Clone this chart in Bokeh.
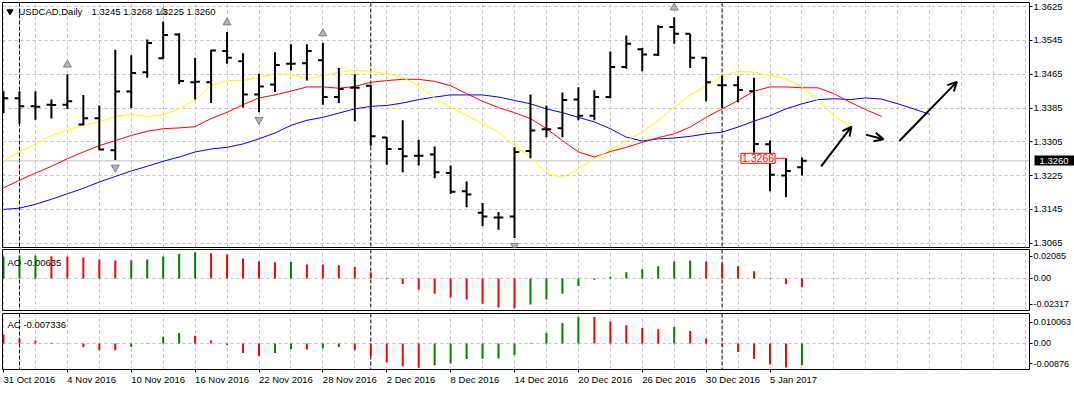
from bokeh.plotting import figure
from bokeh.layouts import column
from bokeh.models import (Range1d, FixedTicker, PrintfTickFormatter, Span, Label,
                          Arrow, OpenHead, ColumnDataSource, LinearAxis)
from bokeh.core.properties import value
from bokeh.embed import file_html
from bokeh.resources import INLINE

# ---------------- data ----------------
symbol = "USDCAD,Daily"

opens = [1.3406, 1.3408, 1.3389, 1.3393, 1.3393, 1.3346, 1.3361, 1.3285, 1.3424, 1.3470,
         1.3503, 1.3559, 1.3446, 1.3446, 1.3520, 1.3496, 1.3417, 1.3441, 1.3490, 1.3491,
         1.3498, 1.3411, 1.3433, 1.3438, 1.3315, 1.3288, 1.3272, 1.3275, 1.3231, 1.3188,
         1.3137, 1.3126, 1.3128, 1.3283, 1.3335, 1.3337, 1.3405, 1.3367, 1.3411, 1.3482,
         1.3524, 1.3511, 1.3577, 1.3561, 1.3504, 1.3439, 1.3439, 1.3425, 1.3299, 1.3225,
         1.3245]
highs = [1.3425, 1.3425, 1.3425, 1.3405, 1.3465, 1.3416, 1.3391, 1.3523, 1.3510, 1.3547,
         1.3590, 1.3562, 1.3504, 1.3523, 1.3565, 1.3515, 1.3466, 1.3517, 1.3536, 1.3536,
         1.3539, 1.3480, 1.3465, 1.3439, 1.3316, 1.3356, 1.3310, 1.3294, 1.3249, 1.3211,
         1.3160, 1.3139, 1.3292, 1.3417, 1.3391, 1.3422, 1.3434, 1.3427, 1.3519, 1.3557,
         1.3527, 1.3581, 1.3600, 1.3561, 1.3506, 1.3462, 1.3460, 1.3457, 1.3308, 1.3266,
         1.3268]
lows = [1.3373, 1.3348, 1.3357, 1.3360, 1.3383, 1.3344, 1.3285, 1.3262, 1.3385, 1.3457,
        1.3502, 1.3442, 1.3405, 1.3397, 1.3490, 1.3386, 1.3375, 1.3423, 1.3474, 1.3450,
        1.3393, 1.3397, 1.3354, 1.3296, 1.3251, 1.3233, 1.3249, 1.3219, 1.3182, 1.3150,
        1.3105, 1.3097, 1.3077, 1.3266, 1.3316, 1.3316, 1.3356, 1.3356, 1.3408, 1.3478,
        1.3472, 1.3508, 1.3537, 1.3480, 1.3401, 1.3385, 1.3399, 1.3279, 1.3188, 1.3174,
        1.3225]
closes = [1.3408, 1.3389, 1.3388, 1.3392, 1.3401, 1.3361, 1.3287, 1.3424, 1.3468, 1.3539,
          1.3558, 1.3449, 1.3447, 1.3521, 1.3504, 1.3417, 1.3436, 1.3487, 1.3490, 1.3520,
          1.3411, 1.3430, 1.3433, 1.3318, 1.3288, 1.3271, 1.3272, 1.3233, 1.3187, 1.3180,
          1.3128, 1.3126, 1.3281, 1.3332, 1.3335, 1.3404, 1.3367, 1.3411, 1.3482, 1.3537,
          1.3512, 1.3577, 1.3561, 1.3504, 1.3446, 1.3439, 1.3428, 1.3300, 1.3227, 1.3236,
          1.3260]

# Alligator lines (lips shifted 3 bars, teeth 5 bars, jaw 8 bars into the future)
lips = [1.3259, 1.3281, 1.3300, 1.3320, 1.3333, 1.3344, 1.3352, 1.3365, 1.3370, 1.3365,
        1.3369, 1.3383, 1.3405, 1.3438, 1.3450, 1.3450, 1.3458, 1.3466, 1.3465, 1.3454,
        1.3462, 1.3470, 1.3474, 1.3472, 1.3466, 1.3457, 1.3438, 1.3408, 1.3386, 1.3367,
        1.3348, 1.3328, 1.3296, 1.3269, 1.3231, 1.3221, 1.3241, 1.3265, 1.3286, 1.3308,
        1.3328, 1.3356, 1.3387, 1.3416, 1.3438, 1.3462, 1.3472, 1.3470, 1.3462, 1.3454,
        1.3435, 1.3403, 1.3367, 1.3342]
teeth = [1.3196, 1.3214, 1.3231, 1.3247, 1.3265, 1.3281, 1.3296, 1.3308, 1.3320, 1.3330,
         1.3336, 1.3338, 1.3341, 1.3360, 1.3375, 1.3393, 1.3409, 1.3416, 1.3425, 1.3435,
         1.3435, 1.3432, 1.3436, 1.3446, 1.3450, 1.3453, 1.3453, 1.3448, 1.3438, 1.3419,
         1.3401, 1.3386, 1.3374, 1.3360, 1.3336, 1.3308, 1.3281, 1.3269, 1.3282, 1.3292,
         1.3304, 1.3315, 1.3324, 1.3340, 1.3363, 1.3383, 1.3403, 1.3425, 1.3435, 1.3435,
         1.3433, 1.3433, 1.3419, 1.3399, 1.3381, 1.3365]
jaw = [1.3145, 1.3148, 1.3157, 1.3169, 1.3182, 1.3195, 1.3210, 1.3223, 1.3236, 1.3247,
       1.3259, 1.3269, 1.3281, 1.3288, 1.3292, 1.3300, 1.3312, 1.3326, 1.3344, 1.3356,
       1.3363, 1.3373, 1.3383, 1.3389, 1.3391, 1.3397, 1.3405, 1.3411, 1.3416, 1.3416,
       1.3416, 1.3411, 1.3403, 1.3395, 1.3383, 1.3374, 1.3363, 1.3352, 1.3336, 1.3316,
       1.3307, 1.3312, 1.3314, 1.3318, 1.3324, 1.3328, 1.3340, 1.3354, 1.3367, 1.3383,
       1.3395, 1.3405, 1.3407, 1.3405, 1.3409, 1.3406, 1.3395, 1.3383, 1.3370]

ao = [0.01575, 0.0163, 0.0166, 0.0160, 0.01575, 0.01504, 0.01363, 0.01293, 0.0131, 0.01363,
      0.01575, 0.01786, 0.0188, 0.0181, 0.01716, 0.01434, 0.01246, 0.01165, 0.01175, 0.0101,
      0.01005, 0.0094, 0.00823, 0.00447, 0.0003, -0.0040, -0.00823, -0.01105, -0.01387, -0.01528,
      -0.01833, -0.02092, -0.02162, -0.0188, -0.01528, -0.01105, -0.0054, -0.0010, 0.0012, 0.00447,
      0.00658, 0.0087, 0.0122, 0.01293, 0.0122, 0.0108, 0.0087, 0.0052, 0.0002, -0.0040,
      -0.00635]
ac = [0.0030, 0.0016, 0.00097, 0.0002, 0.0001, -0.0013, -0.00225, -0.0023, -0.0012, -0.0001,
      0.00226, 0.00354, 0.0026, 0.00097, -0.0005, -0.0032, -0.0042, -0.0032, -0.0019, -0.0020,
      -0.0016, -0.0012, -0.00226, -0.0043, -0.00644, -0.0077, -0.00816, -0.0073, -0.00677, -0.0052,
      -0.00515, -0.0051, -0.0039, 0.0001, 0.00354, 0.00677, 0.0090, 0.0089, 0.0074, 0.0061,
      0.0052, 0.0048, 0.0055, 0.0042, 0.0016, -0.0009, -0.0029, -0.0052, -0.0071, -0.0081,
      -0.007336]
ao_first_up = True
ac_first_up = False

date_label_bars = [0, 4, 8, 12, 16, 20, 24, 28, 32, 36, 40, 44, 48]
date_labels = ["31 Oct 2016", "4 Nov 2016", "10 Nov 2016", "16 Nov 2016", "22 Nov 2016",
               "28 Nov 2016", "2 Dec 2016", "8 Dec 2016", "14 Dec 2016", "20 Dec 2016",
               "26 Dec 2016", "30 Dec 2016", "5 Jan 2017"]
price_ticks = [1.3065, 1.3145, 1.3225, 1.3305, 1.3385, 1.3465, 1.3545, 1.3625]
price_limits = (1.30548, 1.36349)
ao_limits = (-0.02317, 0.02085)
ac_limits = (-0.00876, 0.010063)
month_starts = [1, 23, 45]
fractal_up = [4, 10, 14, 20, 42]
fractal_down = [7, 16, 32]
bid = 1.3260
level_price = 1.3266
level_bar = 49

# hand-drawn arrows (bar index, price)
arrow_x0 = [51.2, 54.0, 56.1]
arrow_y0 = [1.3247, 1.3322, 1.3307]
arrow_x1 = [53.1, 55.1, 59.7]
arrow_y1 = [1.3341, 1.3311, 1.3447]

# ---------------- drawing ----------------
FONT = "Liberation Sans"
GREEN = "#008000"
RED = "#ff0000"
GRID = "#c0c0c0"
W = 1074
BAR_PX = 16.0
n = len(closes)
idx = list(range(n))
x_range = Range1d(-0.0625, 64.25)
PRICE_FRAME_H = 245


def hist_colors(vals, first_up):
    cols = [GREEN if first_up else RED]
    for i in range(1, len(vals)):
        cols.append(GREEN if vals[i] > vals[i - 1] else RED)
    return cols


def make_fig(height, yr, top, bottom, with_xaxis, label_size="9px"):
    p = figure(width=W, height=height, x_range=x_range, y_range=yr,
               output_backend="svg", toolbar_location=None,
               y_axis_location="right",
               x_axis_location=("below" if with_xaxis else None),
               min_border_left=2, min_border_right=43,
               min_border_top=top, min_border_bottom=bottom,
               background_fill_color="white", border_fill_color="white")
    p.outline_line_color = "black"
    p.outline_line_width = 1
    p.outline_line_alpha = 1.0
    p.xgrid.ticker = FixedTicker(ticks=list(range(0, 65, 2)))
    p.xgrid.grid_line_color = GRID
    p.xgrid.grid_line_dash = "3 3"
    ax = p.yaxis[0]
    ax.axis_line_color = None
    ax.major_tick_out = 3
    ax.major_tick_in = 0
    ax.minor_tick_out = 0
    ax.minor_tick_in = 0
    ax.major_tick_line_color = "black"
    ax.major_label_standoff = 1
    ax.major_label_text_font = FONT
    ax.major_label_text_font_size = label_size
    ax.major_label_text_color = "black"
    for m in month_starts:
        p.add_layout(Span(location=m, dimension="height", line_color="black",
                          line_dash="4 2", line_width=1, level="underlay"))
    return p


# ---- price panel ----
p1 = make_fig(248, Range1d(*price_limits), 2, 1, False, label_size="9.5px")
p1.yaxis.ticker = FixedTicker(ticks=price_ticks)
p1.yaxis.formatter = PrintfTickFormatter(format="%.4f")
p1.ygrid.grid_line_color = GRID
p1.ygrid.grid_line_dash = "3 3"
p1.add_layout(Span(location=bid, dimension="width", line_color=GRID, line_width=1,
                   level="underlay"))

# current bid box on the price scale
bid_axis = LinearAxis(ticker=FixedTicker(ticks=[bid]),
                      formatter=PrintfTickFormatter(format="%.4f"),
                      axis_line_color=None,
                      major_tick_in=31, major_tick_out=10,
                      major_tick_line_width=10, major_tick_line_color="black",
                      minor_tick_in=0, minor_tick_out=0,
                      major_label_standoff=-36,
                      major_label_text_color="white",
                      major_label_text_font=FONT,
                      major_label_text_font_size="9.5px")
p1.add_layout(bid_axis, "right")

p1.line(list(range(len(jaw))), jaw, line_color="#0000ff", line_width=1)
p1.line(list(range(len(teeth))), teeth, line_color="#ff0000", line_width=1)
p1.line(list(range(len(lips))), lips, line_color="#ffff00", line_width=1)

p1.segment(x0=idx, y0=lows, x1=idx, y1=highs, line_color="black", line_width=2)
p1.segment(x0=[i - 0.3 for i in idx], y0=opens, x1=idx, y1=opens,
           line_color="black", line_width=2)
p1.segment(x0=idx, y0=closes, x1=[i + 0.3 for i in idx], y1=closes,
           line_color="black", line_width=2)

# fractal arrows a few pixels beyond the bar extremes
ppx = (price_limits[1] - price_limits[0]) / PRICE_FRAME_H
p1.scatter(x=fractal_up, y=[highs[i] + 9.5 * ppx for i in fractal_up], marker="triangle",
           size=8, fill_color="#b4b4b4", line_color="#808080", line_width=1)
p1.scatter(x=fractal_down, y=[lows[i] - 7.5 * ppx for i in fractal_down],
           marker="inverted_triangle", size=8, fill_color="#b4b4b4",
           line_color="#808080", line_width=1)

ohlc_text = f"{opens[-1]:.4f} {highs[-1]:.4f} {lows[-1]:.4f} {closes[-1]:.4f}"
p1.scatter(x=[x_range.start + 7.5 / BAR_PX], y=[price_limits[1] - 9 * ppx],
           marker="inverted_triangle", size=6, fill_color="black", line_color="black")
p1.text(x=[x_range.start], y=[price_limits[1]], text=[symbol], x_offset=16, y_offset=9,
        text_font=value(FONT), text_font_size="9.5px", text_color="black",
        text_align="left", text_baseline="middle")
p1.text(x=[x_range.start], y=[price_limits[1]], text=[ohlc_text], x_offset=89, y_offset=9,
        text_font=value(FONT), text_font_size="9.5px", text_color="black",
        text_align="left", text_baseline="middle")

p1.segment(x0=[level_bar - 0.62], y0=[level_price], x1=[level_bar], y1=[level_price],
           line_color=RED, line_width=1)
p1.add_layout(Label(x=level_bar - 0.62, y=level_price, text=f"{level_price:.4f}",
                    x_offset=-1, text_align="right", text_baseline="middle",
                    text_color=RED, text_font=FONT, text_font_size="10.5px",
                    border_line_color=RED, border_line_width=1,
                    background_fill_color="white", padding=1))

arrow_src = ColumnDataSource(dict(x0=arrow_x0, y0=arrow_y0, x1=arrow_x1, y1=arrow_y1))
p1.add_layout(Arrow(end=OpenHead(size=9, line_width=2, line_color="black"),
                    x_start="x0", y_start="y0", x_end="x1", y_end="y1",
                    source=arrow_src, line_width=2, line_color="black"))

# ---- AO panel ----
p2 = make_fig(63, Range1d(*ao_limits), 1, 1, False)
ao_ticks = [0.0158, 0.0, -0.0188]
p2.yaxis.ticker = FixedTicker(ticks=ao_ticks)
p2.yaxis.major_label_overrides = {0.0158: f"{ao_limits[1]:.5f}", 0.0: "0.00",
                                  -0.0188: f"{ao_limits[0]:.5f}"}
p2.ygrid.visible = False
p2.add_layout(Span(location=0, dimension="width", line_color=GRID, line_dash="3 3",
                   level="underlay"))
p2.segment(x0=idx, y0=[0] * n, x1=idx, y1=ao, line_color=hist_colors(ao, ao_first_up),
           line_width=2)
p2.text(x=[x_range.start], y=[ao_limits[1]], text=[f"AO {ao[-1]:.5f}"], x_offset=5,
        y_offset=12.5, text_font=value(FONT), text_font_size="9.5px", text_color="black",
        text_align="left", text_baseline="middle")

# ---- AC panel ----
p3 = make_fig(82, Range1d(*ac_limits), 2, 21, True)
ac_ticks = [0.0072, 0.0, -0.0068]
p3.yaxis.ticker = FixedTicker(ticks=ac_ticks)
p3.yaxis.major_label_overrides = {0.0072: f"{ac_limits[1]:.6f}", 0.0: "0.00",
                                  -0.0068: f"{ac_limits[0]:.5f}"}
p3.ygrid.visible = False
p3.add_layout(Span(location=0, dimension="width", line_color=GRID, line_dash="3 3",
                   level="underlay"))
p3.segment(x0=idx, y0=[0] * n, x1=idx, y1=ac, line_color=hist_colors(ac, ac_first_up),
           line_width=2)
p3.text(x=[x_range.start], y=[ac_limits[1]], text=[f"AC {ac[-1]:.6f}"], x_offset=5,
        y_offset=10.5, text_font=value(FONT), text_font_size="9.5px", text_color="black",
        text_align="left", text_baseline="middle")

xa = p3.xaxis[0]
xa.ticker = FixedTicker(ticks=date_label_bars)
xa.major_label_overrides = {b: t for b, t in zip(date_label_bars, date_labels)}
xa.axis_line_color = None
xa.major_tick_out = 3
xa.major_tick_in = 0
xa.minor_tick_out = 0
xa.minor_tick_in = 0
xa.major_tick_line_color = "black"
xa.major_label_standoff = 7
xa.major_label_orientation = -0.0001
xa.major_label_text_font = FONT
xa.major_label_text_font_size = "9.5px"
xa.major_label_text_color = "black"

layout = column(p1, p2, p3, spacing=0)
open("out.html", "w").write(file_html(layout, INLINE))
